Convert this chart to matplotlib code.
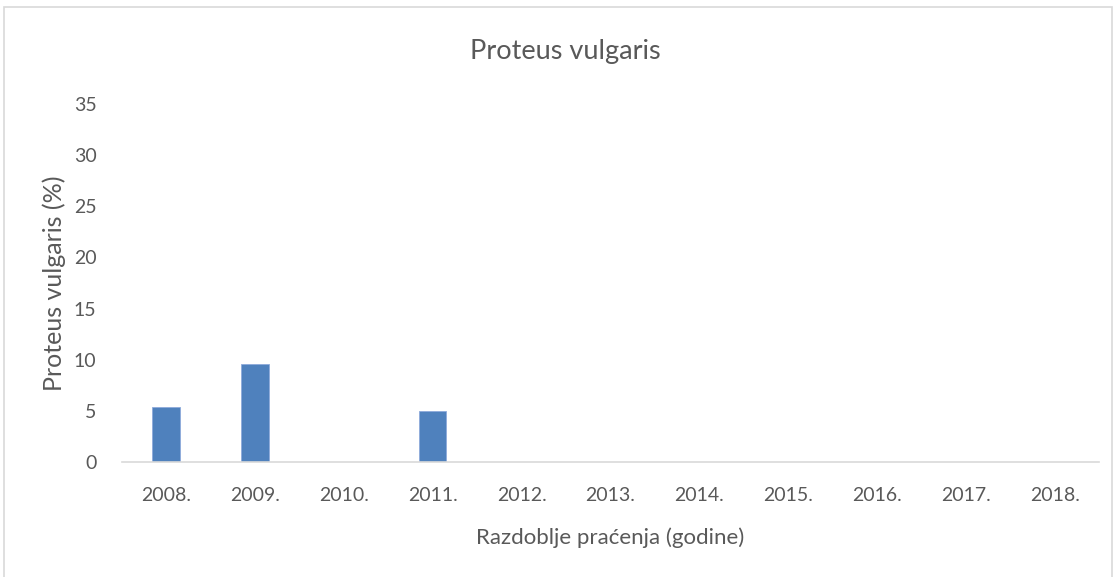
import matplotlib
matplotlib.use("Agg")
import matplotlib.pyplot as plt
from matplotlib.patches import Rectangle

years = ["2008.", "2009.", "2010.", "2011.", "2012.", "2013.", "2014.",
         "2015.", "2016.", "2017.", "2018."]
values = [5.35, 9.55, 0, 4.95, 0, 0, 0, 0, 0, 0, 0]
yticks = [0, 5, 10, 15, 20, 25, 30, 35]

TEXT = "#595959"
BAR = "#4F81BD"

plt.rcParams["font.family"] = ["Lato", "DejaVu Sans"]

fig = plt.figure(figsize=(11.15, 5.77), dpi=100)
ax = fig.add_axes([0.109, 0.1993, 0.877, 0.6205])

x = range(len(years))
ax.bar(x, values, width=0.31, color=BAR, edgecolor="#8EAADB", linewidth=0.6)
ax.set_xlim(-0.5, len(years) - 0.5)
ax.set_ylim(0, 35)
ax.set_yticks(yticks)
ax.set_xticks(list(x))
ax.set_xticklabels(years)
ax.tick_params(length=0, labelsize=14, colors=TEXT)
ax.tick_params(axis="x", pad=18)
ax.tick_params(axis="y", pad=18)

for side in ["top", "right", "left"]:
    ax.spines[side].set_visible(False)
ax.spines["bottom"].set_color("#D9D9D9")
ax.spines["bottom"].set_linewidth(1.2)

fig.text(565 / 1115, 1 - 51 / 577, "Proteus vulgaris", fontsize=19.5,
         color=TEXT, ha="center", va="center")
ax.set_xlabel("Razdoblje praćenja (godine)", fontsize=16, color=TEXT, labelpad=17)
ax.set_ylabel("Proteus vulgaris (%)", fontsize=18, color=TEXT)
ax.yaxis.set_label_coords(-0.057, 0.5)

fig.patches.append(Rectangle((4 / 1115, -0.05), 1108 / 1115, 1.05 - 7 / 577,
                             transform=fig.transFigure, fill=False,
                             edgecolor="#D9D9D9", linewidth=1.2))

fig.savefig("out.png")
